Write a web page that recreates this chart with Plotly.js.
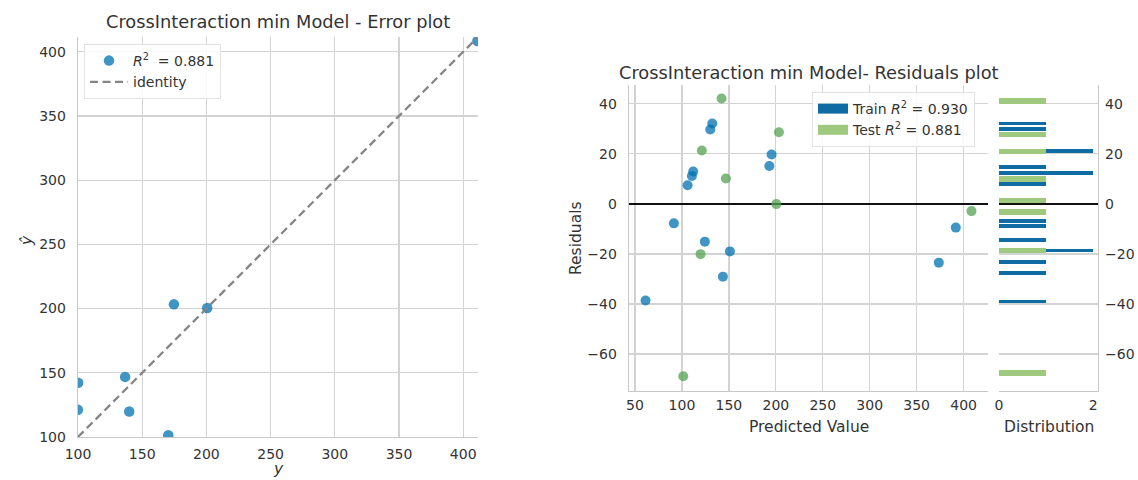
<!DOCTYPE html>
<html>
<head>
<meta charset="utf-8">
<script src="https://cdn.plot.ly/plotly-3.0.1.min.js"></script>
<style>
  html, body { margin: 0; padding: 0; background: #ffffff; }
  #chart { width: 1138px; height: 480px; }
</style>
</head>
<body>
<div id="chart"></div>
<script>
// ---- Test split: actual target, model prediction and residual ----
const testActual    = [100.1, 99.9, 136.7, 139.9, 170.3, 174.7, 200.6, 411.0];
const testPredicted = [142.2, 121.2, 146.8, 119.8, 101.4, 203.3, 200.5, 408.4];
const testResidual  = [42.1, 21.3, 10.1, -20.1, -68.9, 28.6, -0.1, -2.9];

// ---- Train split: prediction and residual ----
const trainPredicted = [61.2, 91.4, 106.0, 110.6, 112.0, 124.4, 130.2, 132.3, 143.6, 151.1, 193.1, 195.5, 373.6, 391.7];
const trainResidual  = [-38.6, -7.8, 7.4, 11.1, 12.9, -15.1, 29.7, 32.1, -29.1, -19.0, 15.1, 19.7, -23.5, -9.5];

// ---- Residual distribution (bin centre / count) ----
const trainBinCenters = [32.1, 29.9, 21.0, 14.6, 12.3, 7.8, -6.9, -8.9, -14.3, -18.6, -23.3, -27.7, -39.0];
const trainBinCounts  = [1, 1, 2, 1, 2, 1, 1, 1, 1, 2, 1, 1, 1];
const testBinCenters  = [41.1, 27.8, 21.0, 10.0, 1.4, -3.3, -18.6, -67.7];
const testBinCounts   = [1, 1, 1, 1, 1, 1, 1, 1];
const trainBinWidth = 1.5;
const testBinWidth  = 2.22;

// ---- Scores and axis limits ----
const r2Train = '0.930';
const r2Test  = '0.881';
const errorLimits = [100, 411.5];

const FONT = '"DejaVu Sans", "Liberation Sans", sans-serif';
const TEXT = '#333333';
const GRID = '#d3d3d3';
const SPINE = '#c8c8c8';
const BLUE_PT = '#0072B2';
const GREEN_PT = '#55a152';
const BLUE_BAR = '#0f6ba3';
const GREEN_BAR = '#9ec97f';

const traces = [
  // prediction error scatter
  {
    type: 'scatter', mode: 'markers',
    x: testActual, y: testPredicted,
    xaxis: 'x', yaxis: 'y', legend: 'legend',
    name: '<i>R</i><sup>2</sup>  = ' + r2Test,
    marker: { color: BLUE_PT, opacity: 0.75, size: 10.5, line: { width: 0 } }
  },
  // identity line
  {
    type: 'scatter', mode: 'lines',
    x: errorLimits, y: errorLimits,
    xaxis: 'x', yaxis: 'y', legend: 'legend',
    name: 'identity',
    line: { color: '#858585', width: 2.3, dash: '8px,4.5px' }
  },
  // residuals: train and test
  {
    type: 'scatter', mode: 'markers',
    x: trainPredicted, y: trainResidual,
    xaxis: 'x2', yaxis: 'y2', showlegend: false,
    marker: { color: BLUE_PT, opacity: 0.75, size: 10, line: { width: 0 } }
  },
  {
    type: 'scatter', mode: 'markers',
    x: testPredicted, y: testResidual,
    xaxis: 'x2', yaxis: 'y2', showlegend: false,
    marker: { color: GREEN_PT, opacity: 0.75, size: 10, line: { width: 0 } }
  },
  // residual distribution
  {
    type: 'bar', orientation: 'h',
    x: trainBinCounts, y: trainBinCenters, width: trainBinWidth,
    xaxis: 'x3', yaxis: 'y3', showlegend: false,
    marker: { color: BLUE_BAR, line: { width: 0 } }
  },
  {
    type: 'bar', orientation: 'h',
    x: testBinCounts, y: testBinCenters, width: testBinWidth,
    xaxis: 'x3', yaxis: 'y3', showlegend: false,
    marker: { color: GREEN_BAR, line: { width: 0 } }
  },
  // legend swatches for the residuals plot
  {
    type: 'scatter', mode: 'lines', x: [null], y: [null],
    xaxis: 'x2', yaxis: 'y2', legend: 'legend2',
    name: 'Train <i>R</i><sup>2</sup> = ' + r2Train,
    line: { color: BLUE_BAR, width: 10 }
  },
  {
    type: 'scatter', mode: 'lines', x: [null], y: [null],
    xaxis: 'x2', yaxis: 'y2', legend: 'legend2',
    name: 'Test <i>R</i><sup>2</sup> = ' + r2Test,
    line: { color: GREEN_BAR, width: 10 }
  }
];

const W = 1138, H = 480;
const px = v => v / W;
const py = v => 1 - v / H;

const baseAxis = {
  showgrid: true, gridcolor: GRID, gridwidth: 1.3,
  showline: true, linecolor: SPINE, linewidth: 1.3,
  zeroline: false, ticks: '', automargin: false,
  tickfont: { family: FONT, size: 14, color: TEXT }
};
const labelFont = { family: FONT, size: 15.5, color: TEXT };
const titleFont = { family: FONT, size: 17.8, color: TEXT };

// free-standing text placed in figure pixels
function label(text, xPix, yPix, font, angle) {
  return {
    text: text, xref: 'paper', yref: 'paper', x: px(xPix), y: py(yPix),
    xanchor: 'center', yanchor: 'middle', showarrow: false,
    textangle: angle || 0, font: font
  };
}

const layout = {
  width: W, height: H,
  margin: { l: 0, r: 0, t: 0, b: 0 },
  paper_bgcolor: '#ffffff', plot_bgcolor: '#ffffff',
  font: { family: FONT, color: TEXT },
  barmode: 'overlay', bargap: 0,
  xaxis: Object.assign({}, baseAxis, {
    domain: [px(78), px(478)], anchor: 'y',
    range: errorLimits, tick0: 0, dtick: 50, ticklabelstandoff: 4
  }),
  yaxis: Object.assign({}, baseAxis, {
    domain: [py(437), py(37)], anchor: 'x',
    range: errorLimits, tick0: 0, dtick: 50, ticklabelstandoff: 8
  }),
  xaxis2: Object.assign({}, baseAxis, {
    domain: [px(629), px(988)], anchor: 'y2',
    range: [43.6, 426], tick0: 0, dtick: 50, ticklabelstandoff: 1
  }),
  yaxis2: Object.assign({}, baseAxis, {
    domain: [py(391), py(85)], anchor: 'x2',
    range: [-74.8, 47.5], tick0: 0, dtick: 20, ticklabelstandoff: 8,
    zeroline: true, zerolinecolor: '#111111', zerolinewidth: 2.2
  }),
  xaxis3: Object.assign({}, baseAxis, {
    domain: [px(999), px(1098)], anchor: 'y3',
    range: [0, 2.1], tickvals: [0, 2], showgrid: false, ticklabelstandoff: 1
  }),
  yaxis3: Object.assign({}, baseAxis, {
    domain: [py(391), py(85)], anchor: 'x3', side: 'right',
    range: [-74.8, 47.5], tick0: 0, dtick: 20, ticklabelstandoff: 3,
    zeroline: true, zerolinecolor: '#111111', zerolinewidth: 2.2
  }),
  legend: {
    x: px(84), y: py(44), xanchor: 'left', yanchor: 'top',
    bgcolor: 'rgba(255,255,255,0.85)', bordercolor: '#e2e2e2', borderwidth: 1,
    font: { family: FONT, size: 14, color: TEXT }, itemwidth: 38
  },
  legend2: {
    x: px(812), y: py(92), xanchor: 'left', yanchor: 'top',
    bgcolor: 'rgba(255,255,255,0.85)', bordercolor: '#e2e2e2', borderwidth: 1,
    font: { family: FONT, size: 14, color: TEXT }, itemwidth: 30
  },
  annotations: [
    label('CrossInteraction min Model - Error plot', 278, 22, titleFont),
    label('CrossInteraction min Model- Residuals plot', 808.5, 72, titleFont),
    label('<i>y</i>', 278, 469, labelFont),
    label('<i>ŷ</i>', 27, 241, labelFont, -90),
    label('Predicted Value', 808.5, 427, labelFont),
    label('Residuals', 576, 238, labelFont, -90),
    label('Distribution', 1048.5, 427, labelFont)
  ]
};

Plotly.newPlot('chart', traces, layout, { displayModeBar: false, staticPlot: true });
</script>
</body>
</html>
